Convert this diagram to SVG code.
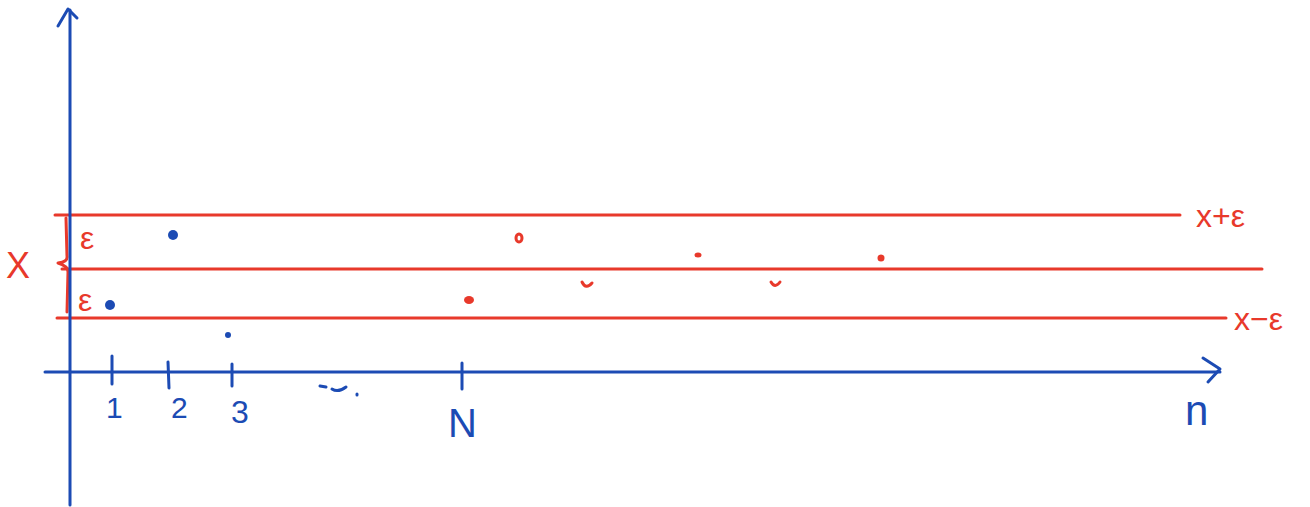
<svg xmlns="http://www.w3.org/2000/svg" width="1310" height="507" viewBox="0 0 1310 507">
<style>
.b{stroke:#1c4bb4;stroke-width:3;fill:none;stroke-linecap:round;stroke-linejoin:round}
.r{stroke:#e8392b;stroke-width:3;fill:none;stroke-linecap:round;stroke-linejoin:round}
.tb{fill:#1c4bb4;font-family:"Liberation Sans",sans-serif}
.tr{fill:#e8392b;font-family:"Liberation Sans",sans-serif}
.db{fill:#1c4bb4}
.dr{fill:#e8392b}
</style>
<rect width="1310" height="507" fill="#fff"/>
<g id="bands">
<line class="r" x1="55" y1="215" x2="1180" y2="215"/>
<line class="r" x1="62" y1="269" x2="1262" y2="269"/>
<line class="r" x1="57" y1="318" x2="1226" y2="318"/>
<path class="r" d="M66 218 L67 256 Q68 262 58 263 Q68 266 68 272 L67 312"/>
</g>
<g id="axes">
<line class="b" x1="70" y1="10" x2="70" y2="505"/>
<path class="b" d="M58 26 L68 9 L77 18"/>
<line class="b" x1="45" y1="372" x2="1220" y2="372"/>
<path class="b" d="M1203 358 L1220 369 L1208 382"/>
<line class="b" x1="112" y1="356" x2="112" y2="384"/>
<line class="b" x1="168" y1="362" x2="169" y2="388"/>
<line class="b" x1="232" y1="364" x2="232" y2="386"/>
<line class="b" x1="462" y1="363" x2="462" y2="389"/>
<path class="b" d="M320 386 L326 387 M332 389 Q338 393 346 387 M357 394 L357 395" />
</g>
<g id="labels">
<text class="tr" x="6" y="278" style="font-size:36px">X</text>
<text class="tr" x="80" y="249" style="font-size:32px">ε</text>
<text class="tr" x="78" y="311" style="font-size:32px">ε</text>
<text class="tr" x="1196" y="227" style="font-size:32px">x+ε</text>
<text class="tr" x="1234" y="330" style="font-size:32px">x−ε</text>
<text class="tb" x="106" y="418" style="font-size:30px">1</text>
<text class="tb" x="171" y="418" style="font-size:30px">2</text>
<text class="tb" x="231" y="423" style="font-size:32px">3</text>
<text class="tb" x="448" y="437" style="font-size:40px">N</text>
<text class="tb" x="1185" y="425" style="font-size:42px">n</text>
</g>
<g id="points">
<circle class="db" cx="110" cy="305" r="5"/>
<circle class="db" cx="173" cy="235" r="5"/>
<circle class="db" cx="228" cy="335" r="3"/>
<ellipse class="dr" cx="469" cy="300" rx="5" ry="4"/>
<ellipse class="r" cx="519" cy="238" rx="3" ry="4" style="stroke-width:3"/>
<path class="r" d="M582 282 Q586 290 592 283" style="stroke-width:3"/>
<ellipse class="dr" cx="698" cy="255" rx="3.5" ry="2.5"/>
<path class="r" d="M771 282 Q775 289 780 282" style="stroke-width:3"/>
<circle class="dr" cx="881" cy="258" r="3.5"/>
</g>
</svg>
